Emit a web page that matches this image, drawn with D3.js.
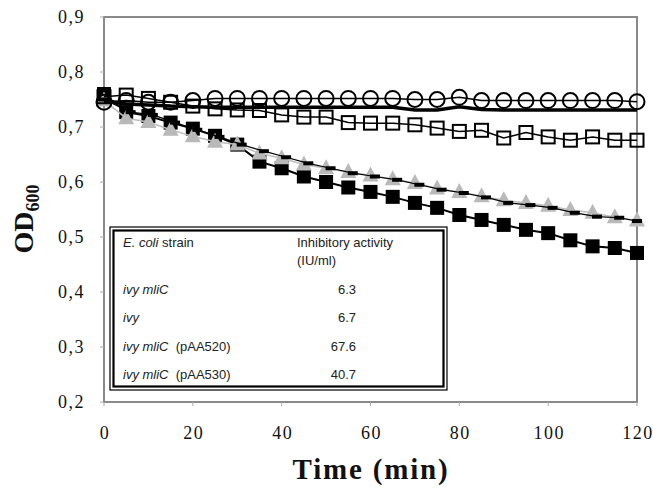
<!DOCTYPE html>
<html>
<head>
<meta charset="utf-8">
<script src="https://cdn.jsdelivr.net/npm/d3@7"></script>
<style>
  body { margin: 0; background: #fff; }
  svg { display: block; }
  .tick-label { font-family: "Liberation Serif", "Times New Roman", serif; font-size: 18px; letter-spacing: 1.5px; fill: #111; }
  .axis-title { font-family: "Liberation Serif", "Times New Roman", serif; font-weight: bold; fill: #111; }
  .legend-text { font-family: "Liberation Sans", Arial, sans-serif; font-size: 13px; fill: #222; }
</style>
</head>
<body>
<svg id="chart" width="653" height="492"></svg>
<script>
const TIMES = d3.range(0, 121, 5);
const DASH_TIMES = [0, 6, 11, 16, 21, 26, 31, 36, 41, 46, 51, 56, 61, 66, 71, 76, 81, 86, 91, 96, 101, 106, 111, 116, 120];

const X_TICKS = [0, 20, 40, 60, 80, 100, 120];
const Y_TICKS = [0.2, 0.3, 0.4, 0.5, 0.6, 0.7, 0.8, 0.9];

const openCircles = [0.745, 0.748, 0.745, 0.745, 0.748, 0.752, 0.752, 0.752, 0.752, 0.752, 0.752, 0.752, 0.752,
  0.752, 0.75, 0.75, 0.754, 0.748, 0.748, 0.748, 0.748, 0.748, 0.748, 0.748, 0.746];
const solidLine = [0.748, 0.742, 0.740, 0.738, 0.737, 0.736, 0.736, 0.736, 0.736, 0.736, 0.736, 0.736, 0.736,
  0.736, 0.731, 0.731, 0.737, 0.732, 0.731, 0.731, 0.731, 0.731, 0.731, 0.731, 0.731];
const openSquares = [0.755, 0.758, 0.752, 0.745, 0.738, 0.733, 0.731, 0.730, 0.722, 0.718, 0.718, 0.708, 0.707,
  0.707, 0.704, 0.698, 0.692, 0.694, 0.680, 0.690, 0.682, 0.676, 0.682, 0.676, 0.676];
const filledSquares = [0.76, 0.727, 0.72, 0.708, 0.697, 0.684, 0.668, 0.637, 0.625, 0.61, 0.60, 0.59, 0.582,
  0.573, 0.562, 0.553, 0.54, 0.531, 0.522, 0.513, 0.507, 0.494, 0.483, 0.48, 0.471];
const grayTriangles = [0.748, 0.716, 0.709, 0.695, 0.683, 0.673, 0.668, 0.652, 0.643, 0.632, 0.625, 0.618, 0.612,
  0.605, 0.598, 0.588, 0.582, 0.574, 0.567, 0.562, 0.557, 0.549, 0.544, 0.536, 0.53];
const blackDashes = [0.75, 0.727, 0.722, 0.708, 0.695, 0.682, 0.668, 0.656, 0.645, 0.634, 0.625, 0.616, 0.61,
  0.604, 0.595, 0.586, 0.58, 0.572, 0.562, 0.558, 0.553, 0.544, 0.537, 0.535, 0.529];

const LEGEND_HEAD = [
  { parts: [["E. coli", true], [" strain", false]], value: "" },
];
const LEGEND_ROWS = [
  { parts: [["ivy mliC", true]], value: "6.3" },
  { parts: [["ivy", true]], value: "6.7" },
  { parts: [["ivy mliC", true], ["  (pAA520)", false]], value: "67.6" },
  { parts: [["ivy mliC", true], ["  (pAA530)", false]], value: "40.7" },
];

const svg = d3.select("#chart");
const x = d3.scaleLinear().domain([0, 120]).range([104, 637]);
const y = d3.scaleLinear().domain([0.2, 0.9]).range([402, 17]);
const comma = (v) => d3.format(".1f")(v).replace(".", ",");

// frame and ticks
svg.append("rect")
  .attr("x", x(0)).attr("y", y(0.9))
  .attr("width", x(120) - x(0)).attr("height", y(0.2) - y(0.9))
  .attr("fill", "none").attr("stroke", "#8a8a8a").attr("stroke-width", 2);

svg.selectAll(".xtick").data(X_TICKS).join("line")
  .attr("x1", (d) => x(d)).attr("x2", (d) => x(d))
  .attr("y1", y(0.2)).attr("y2", y(0.2) + 4)
  .attr("stroke", "#aaa").attr("stroke-width", 1);
svg.selectAll(".ytick").data(Y_TICKS).join("line")
  .attr("x1", x(0) - 4).attr("x2", x(0))
  .attr("y1", (d) => y(d)).attr("y2", (d) => y(d))
  .attr("stroke", "#aaa").attr("stroke-width", 1);

svg.selectAll(".xlab").data(X_TICKS).join("text")
  .attr("class", "tick-label")
  .attr("x", (d) => x(d) + 1).attr("y", 439)
  .attr("text-anchor", "middle").text((d) => d);
svg.selectAll(".ylab").data(Y_TICKS).join("text")
  .attr("class", "tick-label")
  .attr("x", 85).attr("y", (d) => y(d) + 6)
  .attr("text-anchor", "end").text((d) => comma(d));

// axis titles
svg.append("text").attr("class", "axis-title")
  .attr("x", 371).attr("y", 479).attr("text-anchor", "middle")
  .style("font-size", "29px").style("letter-spacing", "1.8px").text("Time (min)");
const yt = svg.append("text").attr("class", "axis-title")
  .attr("transform", "translate(33,219) rotate(-90)")
  .attr("text-anchor", "middle").style("font-size", "28px");
yt.append("tspan").text("OD");
yt.append("tspan").attr("dy", 6).style("font-size", "18px").text("600");

// series
const line = d3.line().x((d) => x(d.t)).y((d) => y(d.v));
const pts = (times, vals) => vals.map((v, i) => ({ t: times[i], v }));

// filled squares sit under the grey triangles
const fsq = pts(TIMES, filledSquares);
svg.append("path").attr("d", line(fsq)).attr("fill", "none").attr("stroke", "#000").attr("stroke-width", 2);
svg.selectAll(".fsq").data(fsq).join("rect")
  .attr("x", (d) => x(d.t) - 7).attr("y", (d) => y(d.v) - 7)
  .attr("width", 14).attr("height", 14).attr("fill", "#000");

const tri = pts(TIMES, grayTriangles);
svg.append("path").attr("d", line(tri)).attr("fill", "none").attr("stroke", "#bdbdbd").attr("stroke-width", 1.5);
svg.selectAll(".tri").data(tri).join("path")
  .attr("transform", (d) => `translate(${x(d.t)},${y(d.v)})`)
  .attr("d", "M0,-9L8,6L-8,6Z").attr("fill", "#b9b9b9");

const dsh = pts(DASH_TIMES, blackDashes);
svg.append("path").attr("d", line(dsh)).attr("fill", "none").attr("stroke", "#000").attr("stroke-width", 1.2);
svg.selectAll(".dsh").data(dsh).join("rect")
  .attr("x", (d) => x(d.t) - 5).attr("y", (d) => y(d.v) - 2)
  .attr("width", 10).attr("height", 4).attr("fill", "#000");

const osq = pts(TIMES, openSquares);
svg.append("path").attr("d", line(osq)).attr("fill", "none").attr("stroke", "#000").attr("stroke-width", 1.5);
svg.selectAll(".osq").data(osq).join("rect")
  .attr("x", (d) => x(d.t) - 6.5).attr("y", (d) => y(d.v) - 6.5)
  .attr("width", 13).attr("height", 13)
  .attr("fill", "none").attr("stroke", "#000").attr("stroke-width", 2);

svg.append("path").attr("d", line(pts(TIMES, solidLine)))
  .attr("fill", "none").attr("stroke", "#000").attr("stroke-width", 3.5);

const oc = pts(TIMES, openCircles);
svg.append("path").attr("d", line(oc)).attr("fill", "none").attr("stroke", "#000").attr("stroke-width", 1.5);
svg.selectAll(".oc").data(oc).join("circle")
  .attr("cx", (d) => x(d.t)).attr("cy", (d) => y(d.v)).attr("r", 7.5)
  .attr("fill", "none").attr("stroke", "#000").attr("stroke-width", 2);

// inset legend table
const lg = svg.append("g");
lg.append("rect").attr("x", 110).attr("y", 227).attr("width", 337).attr("height", 163)
  .attr("fill", "#fff").attr("stroke", "#000").attr("stroke-width", 1.2);
lg.append("rect").attr("x", 113.5).attr("y", 230.5).attr("width", 330).attr("height", 156)
  .attr("fill", "none").attr("stroke", "#000").attr("stroke-width", 2.2);

function richText(g, parts, tx, ty) {
  const t = g.append("text").attr("class", "legend-text").attr("x", tx).attr("y", ty)
    .attr("xml:space", "preserve");
  parts.forEach(([s, it]) => t.append("tspan").style("font-style", it ? "italic" : "normal").text(s));
}
LEGEND_HEAD.forEach((r) => richText(lg, r.parts, 123, 247));
lg.append("text").attr("class", "legend-text").attr("x", 297).attr("y", 247).text("Inhibitory activity");
lg.append("text").attr("class", "legend-text").attr("x", 297).attr("y", 265).text("(IU/ml)");
LEGEND_ROWS.forEach((r, i) => {
  const ty = 294 + i * 28.3;
  richText(lg, r.parts, 123, ty);
  lg.append("text").attr("class", "legend-text").attr("x", 356).attr("y", ty)
    .attr("text-anchor", "end").text(r.value);
});
</script>
</body>
</html>
